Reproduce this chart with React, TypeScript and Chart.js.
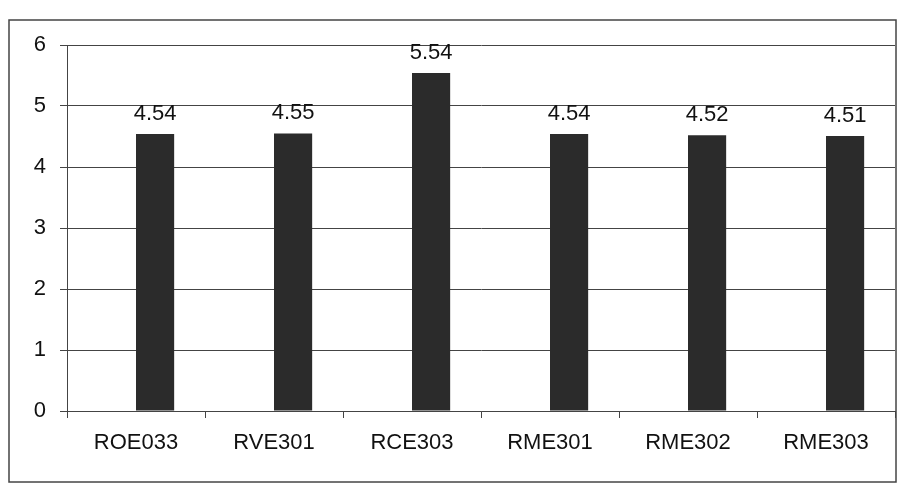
import React, { useEffect, useRef } from "react";
import { Chart, registerables } from "chart.js";

Chart.register(...registerables);

const categories = ["ROE033", "RVE301", "RCE303", "RME301", "RME302", "RME303"];
const emptySeries = [null, null, null, null, null, null];
const values = [4.54, 4.55, 5.54, 4.54, 4.52, 4.51];
const valueLabels = ["4.54", "4.55", "5.54", "4.54", "4.52", "4.51"];
const yTicks = [0, 1, 2, 3, 4, 5, 6];

const FONT = "'Liberation Sans', Arial, sans-serif";

const borderPlugin = {
  id: "outerBorder",
  beforeDraw(chart: any) {
    const ctx = chart.ctx;
    ctx.save();
    ctx.fillStyle = "#ffffff";
    ctx.fillRect(0, 0, chart.width, chart.height);
    ctx.strokeStyle = "#444444";
    ctx.lineWidth = 1.5;
    ctx.strokeRect(9, 20, 887, 462);
    ctx.restore();
  },
};

const valueLabelPlugin = {
  id: "valueLabels",
  afterDatasetsDraw(chart: any) {
    const ctx = chart.ctx;
    const meta = chart.getDatasetMeta(1);
    ctx.save();
    ctx.font = `22px ${FONT}`;
    ctx.fillStyle = "#111111";
    ctx.textAlign = "center";
    ctx.textBaseline = "alphabetic";
    meta.data.forEach((bar: any, i: number) => {
      ctx.fillText(valueLabels[i], bar.x, bar.y - 14);
    });
    ctx.restore();
  },
};

export default function App() {
  const ref = useRef<HTMLCanvasElement | null>(null);

  useEffect(() => {
    document.body.style.margin = "0";
    const canvas = ref.current!;
    const chart = new Chart(canvas, {
      type: "bar",
      data: {
        labels: categories,
        datasets: [
          {
            data: emptySeries,
            backgroundColor: "#2b2b2b",
            borderWidth: 0,
            barPercentage: 1,
            categoryPercentage: 0.553,
          },
          {
            data: values,
            backgroundColor: "#2b2b2b",
            borderWidth: 0,
            barPercentage: 1,
            categoryPercentage: 0.553,
          },
        ],
      },
      options: {
        animation: false,
        responsive: false,
        maintainAspectRatio: false,
        layout: { padding: { left: 0, top: 45, right: 11, bottom: 0 } },
        plugins: {
          legend: { display: false },
          tooltip: { enabled: false },
        },
        scales: {
          x: {
            offset: true,
            grid: {
              display: true,
              drawOnChartArea: false,
              drawTicks: true,
              tickLength: 7,
              color: "#444444",
              offset: true,
            },
            border: { display: true, color: "#444444", width: 1 },
            ticks: {
              color: "#111111",
              font: { family: FONT, size: 22 },
              padding: 12,
              maxRotation: 0,
            },
            afterFit(scale: any) {
              scale.height = 77;
            },
          },
          y: {
            min: 0,
            max: 6,
            afterBuildTicks(scale: any) {
              scale.ticks = yTicks.map((v) => ({ value: v }));
            },
            grid: {
              color: "#444444",
              lineWidth: 1,
              drawTicks: true,
              tickLength: 7,
            },
            border: { display: true, color: "#444444", width: 1 },
            ticks: {
              color: "#111111",
              font: { family: FONT, size: 22 },
              padding: 14,
            },
            afterFit(scale: any) {
              scale.width = 67;
            },
          },
        },
      },
      plugins: [borderPlugin, valueLabelPlugin],
    });
    return () => chart.destroy();
  }, []);

  return (
    <div style={{ width: 906, height: 488 }}>
      <canvas ref={ref} width={906} height={488} style={{ display: "block" }} />
    </div>
  );
}
